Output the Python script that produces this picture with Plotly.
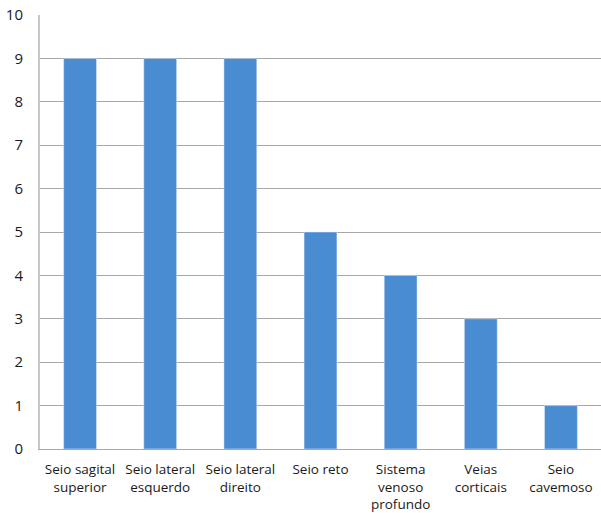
import plotly.graph_objects as go

categories = ["Seio sagital<br>superior", "Seio lateral<br>esquerdo", "Seio lateral<br>direito",
              "Seio reto", "Sistema<br>venoso<br>profundo", "Veias<br>corticais", "Seio<br>cavemoso"]
values = [9, 9, 9, 5, 4, 3, 1]
y_ticks = list(range(0, 11))

fig = go.Figure(go.Bar(x=categories, y=values, marker_color="#4a8cd2", width=0.41))

fig.update_layout(
    width=601, height=513,
    margin=dict(l=40, r=0, t=15, b=62),
    plot_bgcolor="white", paper_bgcolor="white",
    font=dict(family="Open Sans", color="#1a1a1a"),
    showlegend=False,
    bargap=0.59,
)
fig.update_yaxes(range=[0, 10], tickvals=y_ticks, showgrid=True, gridcolor="#a8a8a8", gridwidth=1,
                 showline=True, linecolor="#c8c8c8", linewidth=2, zeroline=False,
                 tickfont=dict(size=15, color="#1a1a1a"), ticks="", ticklabelstandoff=12)
fig.update_xaxes(showline=True, linecolor="#a8a8a8", linewidth=1, tickfont=dict(size=13.5, color="#1a1a1a"),
                 ticks="", tickangle=0, ticklabelstandoff=8)

fig.write_html("out.html")
